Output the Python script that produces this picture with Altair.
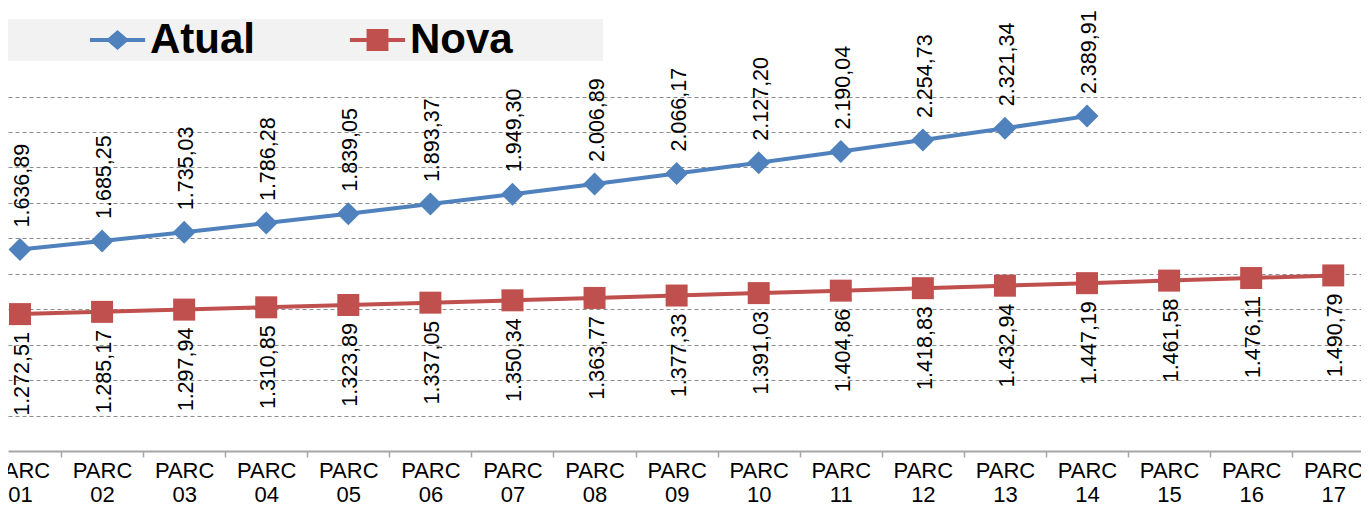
import altair as alt
import pandas as pd

# ---- data ----
parcelas = list(range(1, 18))
atual = [1636.89, 1685.25, 1735.03, 1786.28, 1839.05, 1893.37, 1949.30,
         2006.89, 2066.17, 2127.20, 2190.04, 2254.73, 2321.34, 2389.91]
nova = [1272.51, 1285.17, 1297.94, 1310.85, 1323.89, 1337.05, 1350.34,
        1363.77, 1377.33, 1391.03, 1404.86, 1418.83, 1432.94, 1447.19,
        1461.58, 1476.11, 1490.79]
series_names = ["Atual", "Nova"]
series_colors = ["#4F81BD", "#C0504D"]
grid_values = [700, 900, 1100, 1300, 1500, 1700, 1900, 2100, 2300, 2500]

rows = [{"parc": p, "serie": "Atual", "valor": v} for p, v in zip(parcelas, atual)]
rows += [{"parc": p, "serie": "Nova", "valor": v} for p, v in zip(parcelas, nova)]
df = pd.DataFrame(rows)

FONT = "Liberation Sans"
NBSP = "\u00a0"
BLANK = "\u2800"  # blank glyph that is not trimmed

# legend symbols: line stub + marker (custom paths, unit = sqrt(size)/2)
path_atual = "M-2.4,-0.17L2.4,-0.17L2.4,0.17L-2.4,0.17Z M-1,0L0,-0.87L1,0L0,0.87Z"
path_nova = "M-2.4,-0.17L2.4,-0.17L2.4,0.17L-2.4,0.17Z M-0.95,-0.95L0.95,-0.95L0.95,0.95L-0.95,0.95Z"

x_enc = alt.X(
    "parc:Q",
    scale=alt.Scale(domain=[0.8538, 17.338], nice=False, zero=False),
    axis=alt.Axis(
        values=parcelas,
        labelExpr="['PARC', (datum.value < 10 ? '0' : '') + datum.value]",
        tickOffset=41, labelOffset=-41,
        grid=False, title=None,
        domainColor="#a6a6a6", domainWidth=2,
        tickColor="#a6a6a6", tickWidth=1.5, tickSize=6,
        labelFont=FONT, labelFontSize=22, labelLineHeight=24,
        labelColor="black", labelPadding=3, labelBaseline="top",
        labelOverlap=False, labelFlush=False, labelBound=False,
    ),
)
y_enc = alt.Y(
    "valor:Q",
    scale=alt.Scale(domain=[500, 3000], nice=False, zero=False),
    axis=alt.Axis(
        values=grid_values, labels=False, ticks=False, domain=False,
        grid=True, gridDash=[4, 3], gridColor="#8c8c8c", gridWidth=1,
        title=None,
    ),
)

base = alt.Chart(df).encode(x=x_enc, y=y_enc)
a = base.transform_filter(alt.datum.serie == "Atual")
n = base.transform_filter(alt.datum.serie == "Nova")

line_a = a.mark_line(color=series_colors[0], strokeWidth=4)
line_n = n.mark_line(color=series_colors[1], strokeWidth=4)
pts_a = a.mark_point(filled=True, shape="diamond", size=529, opacity=1,
                     color=series_colors[0], strokeWidth=0)
pts_n = n.mark_point(filled=True, shape="square", size=484, opacity=1,
                     color=series_colors[1], strokeWidth=0)
txt_a = a.mark_text(angle=270, align="left", baseline="middle", dx=22, dy=3,
                    fontSize=21.5, font=FONT, color="black").encode(
    text=alt.Text("valor:Q", format=",.2f"))
txt_n = n.mark_text(angle=270, align="right", baseline="middle", dx=-18, dy=3,
                    fontSize=21.5, font=FONT, color="black").encode(
    text=alt.Text("valor:Q", format=",.2f"))

leg = alt.Legend(
    orient="none", legendX=0, legendY=11, direction="horizontal",
    fillColor="#f2f2f2", padding=0,
    title="MM", titleOrient="left", titleFontSize=40, titleFont=FONT,
    titleFontWeight="bold", titleOpacity=0, titlePadding=21.5,
    labelFont=FONT, labelFontSize=42, labelFontWeight="bold", labelColor="black",
    labelOffset=11.5, labelLimit=0,
    labelExpr="datum.label == 'Nova' ? datum.label + '" + NBSP * 5 + BLANK + "' : datum.label",
    symbolSize=529, symbolStrokeWidth=0, symbolOpacity=1, columnPadding=94,
)
legend_layer = base.transform_filter("false").mark_point(filled=True, opacity=1).encode(
    color=alt.Color("serie:N", scale=alt.Scale(domain=series_names, range=series_colors), legend=leg),
    shape=alt.Shape("serie:N", scale=alt.Scale(domain=series_names, range=[path_atual, path_nova]), legend=leg),
)

chart = alt.layer(line_a, line_n, pts_a, pts_n, txt_a, txt_n, legend_layer).properties(
    width=1353, height=443,
    autosize=alt.AutoSizeParams(type="none"),
    padding={"left": 0, "top": 0, "right": 0, "bottom": 56},
    background="white",
).configure(
    locale=alt.Locale(number=alt.NumberLocale(decimal=",", thousands=".", grouping=[3], currency=["R$", ""])),
    view=alt.ViewConfig(stroke=None),
)

chart.save("out.html", embed_options={"renderer": "svg", "actions": False})
